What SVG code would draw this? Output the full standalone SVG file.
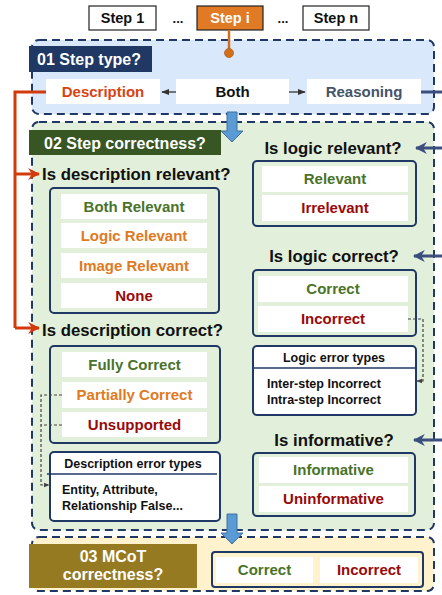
<svg xmlns="http://www.w3.org/2000/svg" width="442" height="595" viewBox="0 0 442 595">
<defs>
<marker id="navyHead" viewBox="0 0 10 10" refX="9" refY="5" markerWidth="4" markerHeight="4" orient="auto" markerUnits="strokeWidth"><path d="M0,0 L10,5 L0,10 L3,5 Z" fill="#3A4F7E"/></marker>
<marker id="redHead" viewBox="0 0 10 10" refX="9" refY="5" markerWidth="4" markerHeight="4" orient="auto" markerUnits="strokeWidth"><path d="M0,0 L10,5 L0,10 L3,5 Z" fill="#D23A0C"/></marker>
<marker id="smallHead" viewBox="0 0 10 10" refX="9" refY="5" markerWidth="6" markerHeight="6" orient="auto" markerUnits="strokeWidth"><path d="M0,1 L10,5 L0,9 Z" fill="#333"/></marker>
<marker id="dashHead" viewBox="0 0 10 10" refX="9" refY="5" markerWidth="5" markerHeight="5" orient="auto" markerUnits="strokeWidth"><path d="M0,1 L10,5 L0,9 Z" fill="#444"/></marker>
</defs>
<style>
text{font-family:"Liberation Sans",Arial,sans-serif;font-weight:bold}
.stage{stroke:#203864;stroke-width:2;stroke-dasharray:8 5}
.hdr{fill:#fff;font-size:16px}
.q{fill:#111;font-size:16.8px}
.frame{fill:none;stroke:#203864;stroke-width:2}
.frameW{fill:#fff;stroke:#203864;stroke-width:2}
.item{fill:#fff}
.it{font-size:15px;text-anchor:middle}
.g{fill:#4A7329}
.o{fill:#E07A1F}
.r{fill:#990A0A}
.step{fill:#fff;stroke:#222;stroke-width:1.2}
.st{font-size:14.5px;text-anchor:middle}
.navy{stroke:#3A4F7E;stroke-width:3;fill:none}
.red{stroke:#D23A0C;stroke-width:3;fill:none}
.dash{stroke:#444;stroke-width:1.2;stroke-dasharray:3 2;fill:none}
.et{font-size:12.5px;fill:#111}
.blue{fill:#5B9BD5;stroke:#41719C;stroke-width:1}
</style>

<!-- stage backgrounds -->
<rect id="stage01" x="32" y="40" width="402" height="74" rx="7" fill="#DAE8FC" class="stage"/>
<rect id="stage02" x="32" y="122" width="402" height="408" rx="7" fill="#E2EFDA" class="stage"/>
<rect id="stage03" x="32" y="537" width="402" height="54" rx="7" fill="#FFF2CC" class="stage"/>

<!-- steps -->
<g id="step1"><rect x="89" y="6" width="67" height="24" class="step"/><text x="122.5" y="23" class="st" fill="#111">Step 1</text></g>
<text x="178" y="23" font-size="13" text-anchor="middle" fill="#111">...</text>
<g id="stepi"><rect x="197" y="6" width="66" height="24" fill="#E07A24" stroke="#222" stroke-width="1.2"/><text x="230" y="23" class="st" fill="#fff">Step i</text></g>
<text x="283" y="23" font-size="13" text-anchor="middle" fill="#111">...</text>
<g id="stepn"><rect x="303" y="6" width="66" height="24" class="step"/><text x="336" y="23" class="st" fill="#111">Step n</text></g>

<!-- stage 01 content -->
<g id="h01"><rect x="29" y="46" width="123" height="26" fill="#1F3864"/><text x="37" y="64.5" class="hdr">01 Step type?</text></g>
<g id="desc"><rect x="46" y="79" width="114" height="25" class="item"/><text x="103" y="97" class="it" fill="#D84315">Description</text></g>
<g id="both"><rect x="176" y="79" width="113" height="25" class="item"/><text x="232.5" y="97" class="it" fill="#111">Both</text></g>
<g id="reason"><rect x="307" y="79" width="114" height="25" class="item"/><text x="364" y="97" class="it" fill="#44546A">Reasoning</text></g>

<!-- stage 02 header -->
<g id="h02"><rect x="29" y="130" width="192" height="25" fill="#375623"/><text x="44" y="148.5" class="hdr">02 Step correctness?</text></g>

<!-- description relevant -->
<g id="descRel">
<text x="42" y="180" class="q">Is description relevant?</text>
<rect x="50" y="188" width="169" height="125" rx="4" class="frame"/>
<rect x="61" y="194" width="146" height="25" class="item"/><text x="134" y="212" class="it g">Both Relevant</text>
<rect x="61" y="223" width="146" height="25" class="item"/><text x="134" y="241" class="it o">Logic Relevant</text>
<rect x="61" y="253" width="146" height="25" class="item"/><text x="134" y="271" class="it o">Image Relevant</text>
<rect x="61" y="283" width="146" height="25" class="item"/><text x="134" y="301" class="it r">None</text>
</g>

<!-- description correct -->
<g id="descCor">
<text x="42" y="336" class="q">Is description correct?</text>
<rect x="50" y="346" width="170" height="97" rx="4" class="frame"/>
<rect x="62" y="352" width="145" height="25" class="item"/><text x="134.5" y="370" class="it g">Fully Correct</text>
<rect x="62" y="382" width="145" height="26" class="item"/><text x="134.5" y="400" class="it o">Partially Correct</text>
<rect x="62" y="412" width="145" height="25" class="item"/><text x="134.5" y="430" class="it r">Unsupported</text>
</g>

<g id="descErr">
<rect x="50" y="452" width="170" height="69" rx="4" class="frameW"/>
<line x1="47" y1="474" x2="217" y2="474" stroke="#203864" stroke-width="1.5"/>
<text x="133" y="468" class="et" text-anchor="middle">Description error types</text>
<text x="62" y="494" class="et">Entity, Attribute,</text>
<text x="62" y="510" class="et">Relationship False...</text>
</g>

<!-- logic relevant -->
<g id="logicRel">
<text x="333" y="154" class="q" text-anchor="middle">Is logic relevant?</text>
<rect x="253" y="161" width="163" height="65" rx="4" class="frame"/>
<rect x="262" y="166" width="146" height="26" class="item"/><text x="335" y="184" class="it g">Relevant</text>
<rect x="262" y="195" width="146" height="26" class="item"/><text x="335" y="213" class="it r">Irrelevant</text>
</g>

<!-- logic correct -->
<g id="logicCor">
<text x="334" y="262" class="q" text-anchor="middle">Is logic correct?</text>
<rect x="253" y="270" width="163" height="66" rx="4" class="frame"/>
<rect x="258" y="276" width="150" height="26" class="item"/><text x="333" y="294" class="it g">Correct</text>
<rect x="258" y="306" width="150" height="26" class="item"/><text x="333" y="324" class="it r">Incorrect</text>
</g>

<g id="logicErr">
<rect x="253" y="346" width="163" height="69" rx="4" class="frameW"/>
<line x1="253" y1="368" x2="416" y2="368" stroke="#203864" stroke-width="1.5"/>
<text x="334" y="362" class="et" text-anchor="middle">Logic error types</text>
<text x="267" y="388" class="et">Inter-step Incorrect</text>
<text x="267" y="404" class="et">Intra-step Incorrect</text>
</g>

<!-- informative -->
<g id="informative">
<text x="334" y="446" class="q" text-anchor="middle">Is informative?</text>
<rect x="253" y="453" width="162" height="63" rx="4" class="frame"/>
<rect x="259" y="457" width="149" height="26" class="item"/><text x="333.5" y="475" class="it g">Informative</text>
<rect x="259" y="486" width="149" height="26" class="item"/><text x="333.5" y="504" class="it r">Uninformative</text>
</g>

<!-- stage 03 -->
<g id="h03"><rect x="29" y="544" width="168" height="44" fill="#967A22"/><text x="113" y="562" class="hdr" text-anchor="middle">03 MCoT</text><text x="113" y="580" class="hdr" text-anchor="middle">correctness?</text></g>
<g id="mcot">
<rect x="212" y="552" width="211" height="35" rx="3" class="frame"/>
<rect x="216" y="557" width="97" height="26" class="item"/><text x="264.5" y="575" class="it g">Correct</text>
<rect x="320" y="557" width="98" height="26" class="item"/><text x="369" y="575" class="it r">Incorrect</text>
</g>

<!-- connectors -->
<g id="connectors">
<line x1="229" y1="30" x2="229" y2="52" stroke="#D0701E" stroke-width="2.5"/>
<circle cx="229" cy="53" r="4.5" fill="#D0701E" stroke="#B85F14" stroke-width="0.8"/>
<line x1="176" y1="92" x2="162" y2="92" stroke="#333" stroke-width="1.3" marker-end="url(#smallHead)"/>
<line x1="289" y1="92" x2="305" y2="92" stroke="#333" stroke-width="1.3" marker-end="url(#smallHead)"/>
<polyline points="46,92 15,92 15,328" class="red"/>
<line x1="15" y1="174" x2="39" y2="174" class="red" marker-end="url(#redHead)"/>
<line x1="15" y1="328" x2="39" y2="328" class="red" marker-end="url(#redHead)"/>
<line x1="421" y1="92" x2="442" y2="92" class="navy"/>
<line x1="442" y1="148" x2="416" y2="148" class="navy" marker-end="url(#navyHead)"/>
<line x1="442" y1="256" x2="414" y2="256" class="navy" marker-end="url(#navyHead)"/>
<line x1="442" y1="440" x2="414" y2="440" class="navy" marker-end="url(#navyHead)"/>
<polyline points="62,395 41,395 41,485 49,485" class="dash" marker-end="url(#dashHead)"/>
<line x1="62" y1="425" x2="41" y2="425" class="dash"/>
<polyline points="408,319 423,319 423,381 417,381" class="dash" marker-end="url(#dashHead)"/>
<path d="M227,112 L237,112 L237,131 L243,131 L232,142 L221,131 L227,131 Z" class="blue"/>
<path d="M227,514 L237,514 L237,533 L243,533 L232,544 L221,533 L227,533 Z" class="blue"/>
</g>
</svg>
